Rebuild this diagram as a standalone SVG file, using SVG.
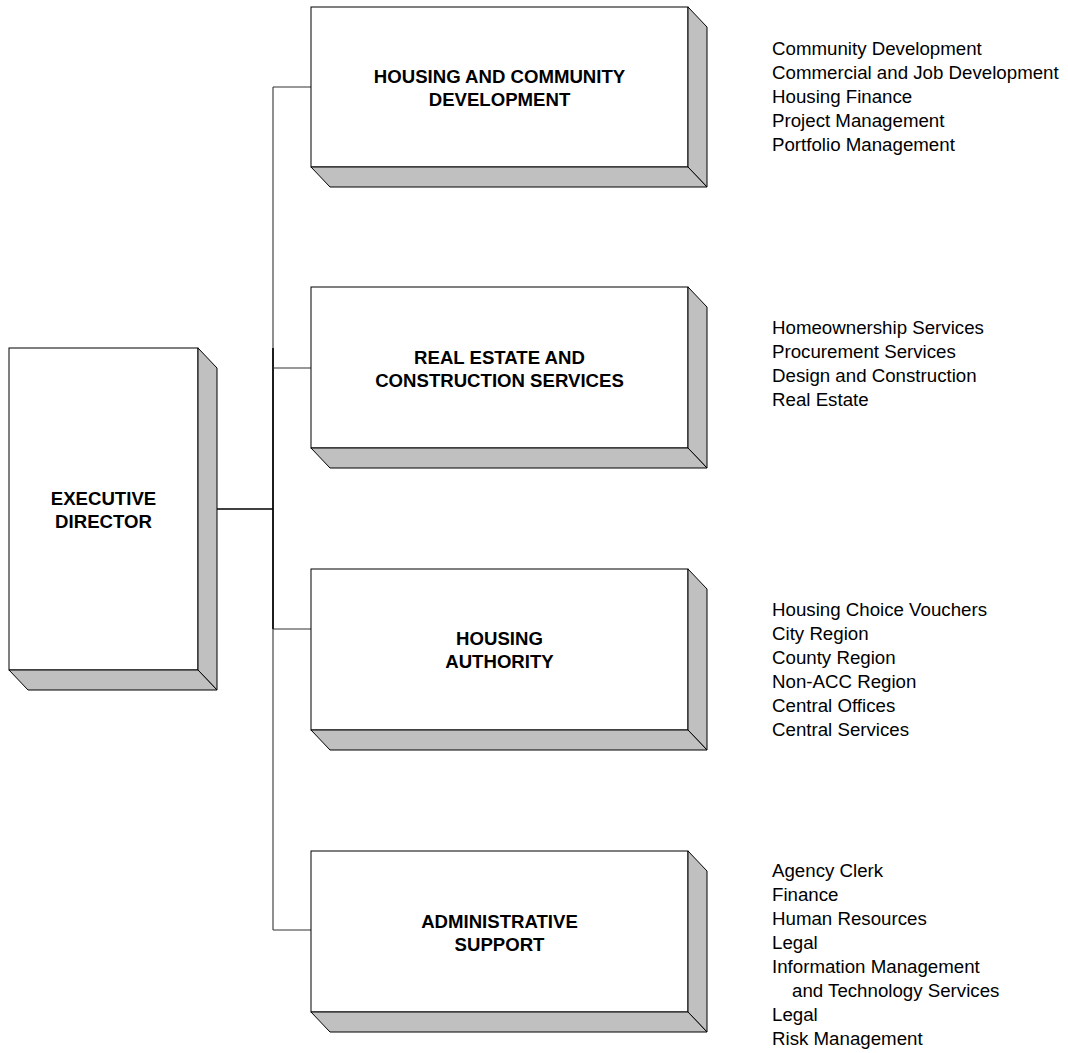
<svg xmlns="http://www.w3.org/2000/svg" width="1068" height="1053" viewBox="0 0 1068 1053">
<style>
.front{fill:#fff;stroke:#000;stroke-width:1}
.side{fill:#c0c0c0;stroke:#000;stroke-width:1;stroke-linejoin:miter}
.title{font-family:"Liberation Sans",Arial,sans-serif;font-weight:bold;font-size:18.6px;fill:#000;text-anchor:middle}
.item{font-family:"Liberation Sans",Arial,sans-serif;font-size:18.7px;fill:#000}
.thin{stroke:#333;stroke-width:1.1;fill:none}
.bold{stroke:#000;stroke-width:1.6;fill:none}
</style>
<rect width="1068" height="1053" fill="#fff"/>
<g id="connectors">
<line class="thin" x1="273" y1="87" x2="273" y2="930"/>
<line class="bold" x1="273" y1="348" x2="273" y2="629"/>
<line class="bold" x1="217" y1="509" x2="273" y2="509"/>
<line class="thin" x1="273" y1="87" x2="311" y2="87"/>
<line class="thin" x1="273" y1="368" x2="311" y2="368"/>
<line class="thin" x1="273" y1="629" x2="311" y2="629"/>
<line class="thin" x1="273" y1="930" x2="311" y2="930"/>
</g>
<g id="exec">
<rect class="front" x="9" y="348" width="189" height="322"/>
<polygon class="side" points="198,348 217,368 217,690 198,670"/>
<polygon class="side" points="9,670 198,670 217,690 28,690"/>
<text class="title" x="103.5" y="504.5">EXECUTIVE</text>
<text class="title" x="103.5" y="527.5">DIRECTOR</text>
</g>
<g id="hcd">
<rect class="front" x="311" y="7" width="377" height="160"/>
<polygon class="side" points="688,7 707,27 707,187 688,167"/>
<polygon class="side" points="311,167 688,167 707,187 330,187"/>
<text class="title" x="499.5" y="83">HOUSING AND COMMUNITY</text>
<text class="title" x="499.5" y="106">DEVELOPMENT</text>
</g>
<g id="recs">
<rect class="front" x="311" y="287" width="377" height="161"/>
<polygon class="side" points="688,287 707,307 707,468 688,448"/>
<polygon class="side" points="311,448 688,448 707,468 330,468"/>
<text class="title" x="499.5" y="363.5">REAL ESTATE AND</text>
<text class="title" x="499.5" y="386.5">CONSTRUCTION SERVICES</text>
</g>
<g id="ha">
<rect class="front" x="311" y="569" width="377" height="161"/>
<polygon class="side" points="688,569 707,589 707,750 688,730"/>
<polygon class="side" points="311,730 688,730 707,750 330,750"/>
<text class="title" x="499.5" y="645">HOUSING</text>
<text class="title" x="499.5" y="668">AUTHORITY</text>
</g>
<g id="admin">
<rect class="front" x="311" y="851" width="377" height="161"/>
<polygon class="side" points="688,851 707,871 707,1032 688,1012"/>
<polygon class="side" points="311,1012 688,1012 707,1032 330,1032"/>
<text class="title" x="499.5" y="927.5">ADMINISTRATIVE</text>
<text class="title" x="499.5" y="950.5">SUPPORT</text>
</g>
<g id="hcd-list">
<text class="item" x="772" y="55">Community Development</text>
<text class="item" x="772" y="79">Commercial and Job Development</text>
<text class="item" x="772" y="103">Housing Finance</text>
<text class="item" x="772" y="127">Project Management</text>
<text class="item" x="772" y="151">Portfolio Management</text>
</g>
<g id="recs-list">
<text class="item" x="772" y="334">Homeownership Services</text>
<text class="item" x="772" y="358">Procurement Services</text>
<text class="item" x="772" y="382">Design and Construction</text>
<text class="item" x="772" y="406">Real Estate</text>
</g>
<g id="ha-list">
<text class="item" x="772" y="616">Housing Choice Vouchers</text>
<text class="item" x="772" y="640">City Region</text>
<text class="item" x="772" y="664">County Region</text>
<text class="item" x="772" y="688">Non-ACC Region</text>
<text class="item" x="772" y="712">Central Offices</text>
<text class="item" x="772" y="736">Central Services</text>
</g>
<g id="admin-list">
<text class="item" x="772" y="877">Agency Clerk</text>
<text class="item" x="772" y="901">Finance</text>
<text class="item" x="772" y="925">Human Resources</text>
<text class="item" x="772" y="949">Legal</text>
<text class="item" x="772" y="973">Information Management</text>
<text class="item" x="792" y="997">and Technology Services</text>
<text class="item" x="772" y="1021">Legal</text>
<text class="item" x="772" y="1045">Risk Management</text>
</g>
</svg>
